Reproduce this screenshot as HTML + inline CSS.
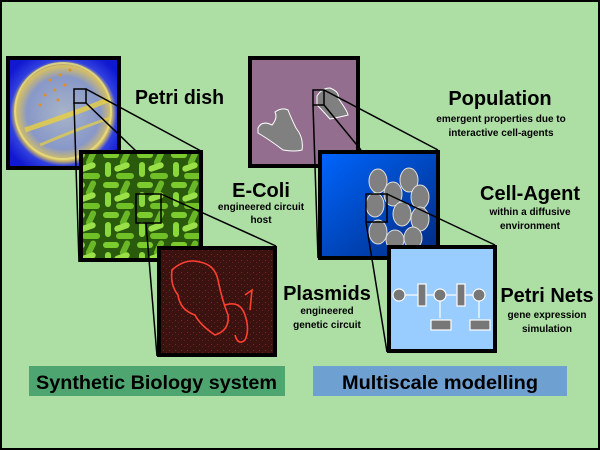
<!DOCTYPE html>
<html><head><meta charset="utf-8"><style>
html,body{margin:0;padding:0;background:#addfa5}
svg{display:block}
text{font-family:"Liberation Sans",Arial,sans-serif;font-weight:bold;fill:#000}
</style></head><body>
<svg width="600" height="450" viewBox="0 0 600 450" xmlns="http://www.w3.org/2000/svg">
<defs>
<radialGradient id="petri" cx="0.5" cy="0.5" r="0.6">
<stop offset="0" stop-color="#a8b4c8"/><stop offset="0.55" stop-color="#8898c8"/><stop offset="0.72" stop-color="#d8c060"/><stop offset="0.8" stop-color="#3040e0"/><stop offset="1" stop-color="#1018d0"/></radialGradient>
<pattern id="bact" width="34" height="30" patternUnits="userSpaceOnUse">
<rect width="34" height="30" fill="#2a5a0c"/>
<rect x="1" y="2" width="16" height="6" rx="3" fill="#7ccc30"/>
<rect x="20" y="0" width="6" height="16" rx="3" fill="#6ab828" transform="rotate(25 23 8)"/>
<rect x="3" y="12" width="6" height="15" rx="3" fill="#8ad83c"/>
<rect x="12" y="14" width="16" height="6" rx="3" fill="#9ae048" transform="rotate(-20 20 17)"/>
<rect x="14" y="23" width="18" height="6" rx="3" fill="#70c028"/>
</pattern>
<pattern id="plas" width="6" height="6" patternUnits="userSpaceOnUse">
<rect width="6" height="6" fill="#3a1210"/><rect x="1" y="2" width="1" height="1" fill="#7a2820"/><rect x="4" y="4" width="1" height="1" fill="#6a2018"/></pattern>
<linearGradient id="cellbg" x1="0" y1="0" x2="1" y2="1"><stop offset="0" stop-color="#0066ff"/><stop offset="1" stop-color="#002a80"/></linearGradient>
</defs>
<rect x="1" y="1" width="598" height="448" fill="#addfa5" stroke="#000" stroke-width="2"/>

<rect x="8" y="58" width="111" height="110" fill="url(#petri)" stroke="#000" stroke-width="4"/>
<circle cx="63" cy="111" r="48" fill="none" stroke="#e8e080" stroke-width="2" opacity="0.8"/>
<path d="M25 130 Q70 115 108 100" stroke="#e8d040" stroke-width="5" fill="none" opacity="0.8"/>
<path d="M40 145 Q80 128 110 118" stroke="#e8d040" stroke-width="3" fill="none" opacity="0.7"/>
<g fill="#e09020"><circle cx="50" cy="80" r="1.5"/><circle cx="60" cy="75" r="1.5"/><circle cx="55" cy="90" r="1.5"/><circle cx="45" cy="95" r="1.5"/><circle cx="65" cy="85" r="1.5"/><circle cx="40" cy="105" r="1.5"/><circle cx="70" cy="70" r="1.5"/><circle cx="58" cy="100" r="1.5"/></g>

<rect x="81" y="152" width="120" height="108" fill="url(#bact)" stroke="#000" stroke-width="4"/>
<rect x="159" y="248" width="116" height="107" fill="url(#plas)" stroke="#000" stroke-width="4"/>
<path d="M172 270 Q185 258 200 262 Q215 265 218 280 Q222 300 228 315 Q230 330 215 335 Q200 325 195 315 Q180 310 178 295 Q170 285 172 270 Z M225 305 Q240 300 245 315 Q250 330 245 340 Q238 346 235 335 M245 295 L252 290 L250 310" fill="none" stroke="#ff4030" stroke-width="1.6"/>

<g stroke="#000" fill="none">
<rect x="74" y="89" width="12" height="14" stroke-width="1.5"/>
<line x1="86" y1="89" x2="201" y2="151" stroke-width="1.5"/>
<line x1="86" y1="103" x2="136" y2="151" stroke-width="1.5"/>
<line x1="74" y1="103" x2="79" y2="262" stroke-width="1.5"/>
<rect x="136" y="194" width="25" height="29" stroke-width="1.5"/>
<line x1="161" y1="194" x2="276" y2="246" stroke-width="1.5"/>
<line x1="146" y1="223" x2="157" y2="356" stroke-width="1.5"/>
</g>

<rect x="250" y="58" width="108" height="108" fill="#936e8e" stroke="#000" stroke-width="4"/>
<path d="M258 128 Q262 120 272 125 Q278 118 275 112 Q282 107 288 110 Q292 120 296 128 Q304 138 302 150 Q295 152 283 150 Q270 140 258 133 Z" fill="#808080" stroke="#fff" stroke-width="1"/>
<path d="M317 96 Q322 88 330 88 Q340 92 338 98 Q348 112 348 115 Q340 117 330 119 Q322 110 317 105 Z" fill="#808080" stroke="#fff" stroke-width="1"/>

<rect x="320" y="152" width="118" height="106" fill="url(#cellbg)" stroke="#000" stroke-width="4"/>
<g fill="#808080" stroke="#ddd" stroke-width="1">
<ellipse cx="378" cy="181" rx="9" ry="12"/><ellipse cx="409" cy="180" rx="9" ry="12"/>
<ellipse cx="393" cy="194" rx="9" ry="12"/><ellipse cx="420" cy="197" rx="9" ry="12"/>
<ellipse cx="375" cy="205" rx="9" ry="12"/><ellipse cx="402" cy="214" rx="9" ry="12"/>
<ellipse cx="420" cy="219" rx="9" ry="12"/><ellipse cx="378" cy="232" rx="9" ry="12"/>
<ellipse cx="395" cy="240" rx="9" ry="10"/><ellipse cx="413" cy="238" rx="9" ry="11"/>
</g>

<rect x="389" y="247" width="106" height="104" fill="#99ccff" stroke="#000" stroke-width="4"/>
<g stroke="#fff" stroke-width="1.2">
<line x1="405" y1="295" x2="418" y2="295"/><line x1="426" y1="295" x2="436" y2="295"/>
<line x1="445" y1="295" x2="456" y2="295"/><line x1="464" y1="295" x2="474" y2="295"/>
<line x1="440" y1="301" x2="440" y2="318"/><line x1="479" y1="301" x2="479" y2="318"/>
</g>
<g fill="#777" stroke="#fff" stroke-width="1.2">
<circle cx="399" cy="295" r="6"/><rect x="418" y="284" width="8" height="22"/>
<circle cx="440" cy="295" r="6"/><rect x="457" y="284" width="8" height="22"/>
<circle cx="479" cy="295" r="6"/>
<rect x="431" y="320" width="20" height="10"/><rect x="470" y="320" width="20" height="10"/>
</g>

<g stroke="#000" fill="none" stroke-width="1.5">
<rect x="313" y="90" width="11" height="15"/>
<line x1="324" y1="90" x2="438" y2="150"/>
<line x1="324" y1="105" x2="361" y2="150"/>
<line x1="313" y1="105" x2="318" y2="258"/>
<rect x="366" y="194" width="21" height="28"/>
<line x1="387" y1="194" x2="495" y2="245"/>
<line x1="366" y1="222" x2="387" y2="352"/>
</g>

<text x="135" y="104" font-size="20" textLength="89" lengthAdjust="spacingAndGlyphs">Petri dish</text>
<text x="261" y="197" font-size="20" text-anchor="middle">E-Coli</text>
<text x="261" y="210" font-size="10" text-anchor="middle">engineered circuit</text>
<text x="261" y="223" font-size="10" text-anchor="middle">host</text>
<text x="327" y="300" font-size="20" text-anchor="middle">Plasmids</text>
<text x="327" y="314" font-size="10" text-anchor="middle">engineered</text>
<text x="327" y="328" font-size="10" text-anchor="middle">genetic circuit</text>
<text x="500" y="105" font-size="20" text-anchor="middle">Population</text>
<text x="501" y="122" font-size="10" text-anchor="middle">emergent properties due to</text>
<text x="501" y="136" font-size="10" text-anchor="middle">interactive cell-agents</text>
<text x="530" y="200" font-size="20" text-anchor="middle">Cell-Agent</text>
<text x="530" y="215" font-size="10" text-anchor="middle">within a diffusive</text>
<text x="530" y="229" font-size="10" text-anchor="middle">environment</text>
<text x="547" y="302" font-size="20" text-anchor="middle">Petri Nets</text>
<text x="547" y="318" font-size="10" text-anchor="middle">gene expression</text>
<text x="547" y="332" font-size="10" text-anchor="middle">simulation</text>

<rect x="29" y="366" width="256" height="30" fill="#4ea56f"/>
<text x="36" y="389" font-size="19" textLength="241" lengthAdjust="spacingAndGlyphs">Synthetic Biology system</text>
<rect x="313" y="366" width="254" height="30" fill="#6fa0d2"/>
<text x="342" y="389" font-size="19" textLength="196" lengthAdjust="spacingAndGlyphs">Multiscale modelling</text>
</svg>
</body></html>
